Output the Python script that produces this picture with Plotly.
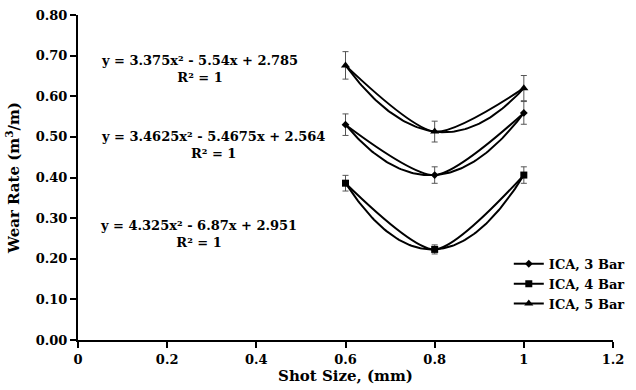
import numpy as np
import plotly.graph_objects as go

# ---- data ----
shot_size = [0.6, 0.8, 1.0]
series_names = ["ICA, 3 Bar", "ICA, 4 Bar", "ICA, 5 Bar"]
wear_3bar = [0.530, 0.406, 0.559]
wear_4bar = [0.386, 0.223, 0.406]
wear_5bar = [0.676, 0.513, 0.620]
error_percent = 5
equation_labels = [
    "y = 3.375x² - 5.54x + 2.785<br>R² = 1",
    "y = 3.4625x² - 5.4675x + 2.564<br>R² = 1",
    "y = 4.325x² - 6.87x + 2.951<br>R² = 1",
]
x_ticks = [0, 0.2, 0.4, 0.6, 0.8, 1.0, 1.2]
y_ticks = [0.0, 0.1, 0.2, 0.3, 0.4, 0.5, 0.6, 0.7, 0.8]

FONT = "DejaVu Serif"
series_values = [wear_3bar, wear_4bar, wear_5bar]
symbols = ["diamond", "square", "triangle-up"]
sizes = [6, 7, 8]

fig = go.Figure()

# polynomial trendlines (order 2), fitted from the data
for vals in series_values:
    coef = np.polyfit(shot_size, vals, 2)
    xs = np.linspace(min(shot_size), max(shot_size), 101)
    fig.add_trace(go.Scatter(
        x=xs, y=np.polyval(coef, xs), mode="lines",
        line=dict(color="black", width=2), showlegend=False, hoverinfo="skip"))

# data series with smoothed lines and error bars
for name, vals, sym, sz in zip(series_names, series_values, symbols, sizes):
    fig.add_trace(go.Scatter(
        x=shot_size, y=vals, name=name, mode="lines+markers",
        line=dict(color="black", width=2, shape="spline", smoothing=0.7),
        marker=dict(symbol=sym, size=sz, color="black"),
        error_y=dict(type="percent", value=error_percent, color="#555555",
                     thickness=1, width=3),
    ))

# equation annotations (layout positions)
ann_pos = [(0.2735, 0.666), (0.303, 0.479), (0.271, 0.260)]
for txt, (ax, ay) in zip(equation_labels, ann_pos):
    fig.add_annotation(x=ax, y=ay, xref="x", yref="y", text=txt, showarrow=False,
                       xanchor="center", yanchor="middle", align="center",
                       font=dict(family=FONT, size=13, color="black", weight="bold"))

axis_common = dict(
    showgrid=False, zeroline=False, showline=True, linecolor="black", linewidth=2,
    ticks="outside", ticklen=6, tickwidth=2, tickcolor="black", automargin=False,
    tickfont=dict(family=FONT, size=13, color="black", weight="bold"),
)

fig.update_layout(
    width=636, height=390,
    margin=dict(l=78, r=23, t=15, b=50, autoexpand=False),
    plot_bgcolor="white", paper_bgcolor="white",
    xaxis=dict(range=[0, 1.2], tickvals=x_ticks, ticktext=[f"{v:g}" for v in x_ticks],
               title=dict(text="Shot Size, (mm)", standoff=2,
                          font=dict(family=FONT, size=15, color="black", weight="bold")),
               **axis_common),
    yaxis=dict(range=[0, 0.8], tickvals=y_ticks, ticktext=[f"{v:.2f}" for v in y_ticks],
               title=dict(text="Wear Rate (m<sup>3</sup>/m)", standoff=12,
                          font=dict(family=FONT, size=15, color="black", weight="bold")),
               **axis_common),
    legend=dict(x=0.800, y=0.362, xref="container", yref="container",
                xanchor="left", yanchor="top",
                font=dict(family=FONT, size=13, color="black", weight="bold"),
                bgcolor="rgba(0,0,0,0)", itemwidth=30, tracegroupgap=0),
    showlegend=True,
)

fig.write_html("out.html", config={"displayModeBar": False},
               post_script="document.body.style.margin='0';document.body.style.overflow='hidden';")
